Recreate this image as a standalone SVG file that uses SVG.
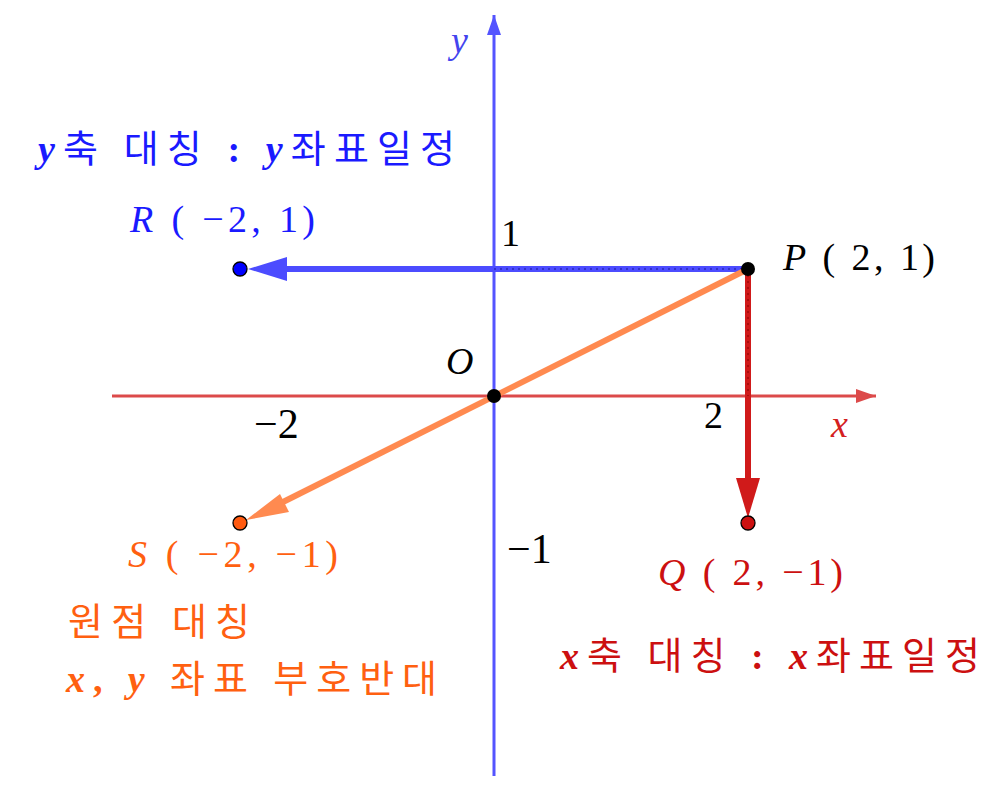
<svg xmlns="http://www.w3.org/2000/svg" width="1005" height="791" viewBox="0 0 1005 791">
<style>
.m{font-family:"Liberation Serif","DejaVu Serif",serif;font-style:italic}
.n{font-family:"Liberation Serif","DejaVu Serif",serif}
.k{font-family:"Liberation Serif","Noto Sans CJK KR",serif}
.b{font-weight:bold}
.pt{stroke:#000;stroke-width:1.3}
</style>
<defs>
<marker id="ax" viewBox="0 0 20 14" refX="20" refY="7" markerWidth="20" markerHeight="14" markerUnits="userSpaceOnUse" orient="auto"><path d="M0,0L20,7L0,14z" fill="context-stroke"/></marker>
</defs>
<rect width="1005" height="791" fill="#fff"/>
<g id="axes">
<line x1="112" y1="396" x2="876" y2="396" stroke="#dc4a4a" stroke-width="3" marker-end="url(#ax)"/>
<line x1="494" y1="776" x2="494" y2="15" stroke="#5454ff" stroke-width="3" marker-end="url(#ax)"/>
</g>
<g id="connectors">
<line x1="748" y1="269" x2="286" y2="269" stroke="#4c4cff" stroke-width="6"/>
<path d="M248,269L287,257L287,281z" fill="#4c4cff"/>
<line x1="494" y1="269" x2="748" y2="269" stroke="#1a1aa0" stroke-width="1.5" stroke-dasharray="2,4" opacity="0.7"/>
<line x1="748" y1="269" x2="748" y2="480" stroke="#d01a1a" stroke-width="6"/>
<path d="M748,518L736,478L760,478z" fill="#d01a1a"/>
<line x1="748" y1="269" x2="748" y2="396" stroke="#800000" stroke-width="1.5" stroke-dasharray="2,4" opacity="0.6"/>
<line x1="748" y1="269" x2="283" y2="502" stroke="#ff8a50" stroke-width="6"/>
<path d="M246,520L280,494L289,512z" fill="#ff8a50"/>
</g>
<g id="points">
<circle cx="748" cy="269" r="7" fill="#000"/>
<circle cx="494" cy="396" r="7" fill="#000"/>
<circle cx="240" cy="269" r="7" fill="#0000ff" class="pt"/>
<circle cx="240" cy="523" r="7" fill="#ff5a10" class="pt"/>
<circle cx="748" cy="523" r="7" fill="#cc1010" class="pt"/>
</g>
<g id="labels" font-size="38">
<text x="451" y="53" class="m" fill="#4444ee">y</text>
<text x="831" y="437" class="m" fill="#d42020">x</text>
<text x="446" y="374" class="m" textLength="30">O</text>
<text x="501" y="246" class="n">1</text>
<text x="704" y="428" class="n">2</text>
<text x="254" y="438" class="n" font-size="42">−2</text>
<text x="507" y="563" class="n" font-size="42">−1</text>
<text x="783" y="270" fill="#000" textLength="152" lengthAdjust="spacing"><tspan class="m">P</tspan><tspan class="n"> ( 2, 1)</tspan></text>
<text x="130" y="232" fill="#1a1aff" textLength="185" lengthAdjust="spacing"><tspan class="m">R</tspan><tspan class="n"> ( −2, 1)</tspan></text>
<text x="128" y="567" fill="#ff6010" textLength="210" lengthAdjust="spacing"><tspan class="m">S</tspan><tspan class="n"> ( −2, −1)</tspan></text>
<text x="658" y="585" fill="#cc1010" textLength="185" lengthAdjust="spacing"><tspan class="m">Q</tspan><tspan class="n"> ( 2, −1)</tspan></text>
</g>
<g id="notes" font-size="38">
<text x="38" y="162" fill="#1a1aff" class="k" textLength="417" lengthAdjust="spacing"><tspan class="m b">y</tspan>축 대칭 <tspan class="b">:</tspan> <tspan class="m b">y</tspan>좌표일정</text>
<text x="68" y="635" fill="#ff6010" class="k" textLength="182" lengthAdjust="spacing">원점 대칭</text>
<text x="66" y="692" fill="#ff6010" class="k" textLength="371" lengthAdjust="spacing"><tspan class="m b">x</tspan><tspan class="b">,</tspan> <tspan class="m b">y</tspan> 좌표 부호반대</text>
<text x="560" y="669" fill="#cc1010" class="k" textLength="420" lengthAdjust="spacing"><tspan class="m b">x</tspan>축 대칭 <tspan class="b">:</tspan> <tspan class="m b">x</tspan>좌표일정</text>
</g>
</svg>
